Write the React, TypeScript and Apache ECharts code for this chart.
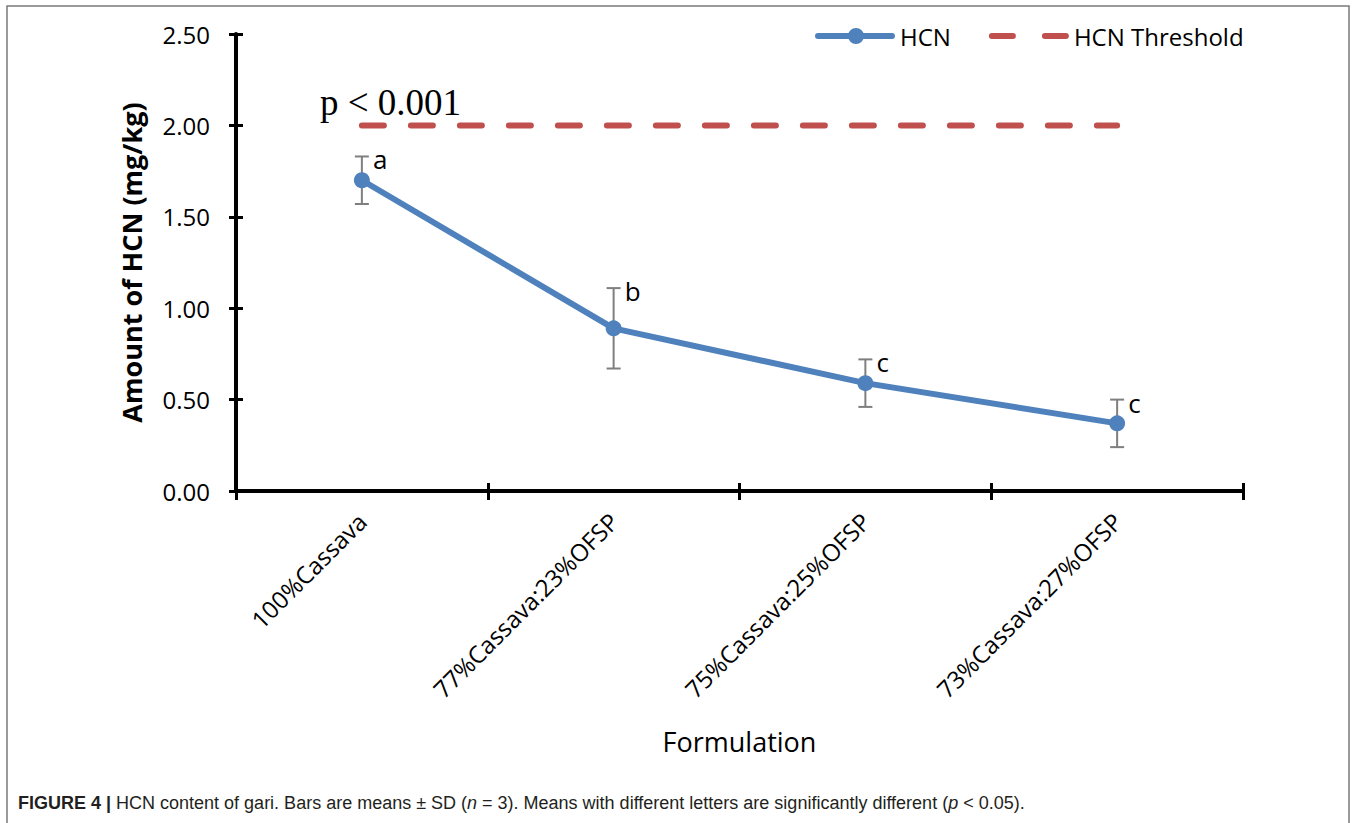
import React, { useEffect, useRef } from "react";
import * as echarts from "echarts";

const categories = ["100%Cassava", "77%Cassava:23%OFSP", "75%Cassava:25%OFSP", "73%Cassava:27%OFSP"];
const hcnMeans = [1.7, 0.89, 0.59, 0.37];
const hcnSD = [0.13, 0.22, 0.13, 0.13];
const sigLetters = ["a", "b", "c", "c"];
const thresholdValues = [2.0, 2.0, 2.0, 2.0];
const yMin = 0;
const yMax = 2.5;
const yInterval = 0.5;
const seriesNames = ["HCN", "HCN Threshold"];
const xTitle = "Formulation";
const yTitle = "Amount of HCN (mg/kg)";
const pAnnotation = "p < 0.001";

const FONT = "'Open Sans', 'DejaVu Sans', sans-serif";
const BLUE = "#4F81BD";
const RED = "#C0504D";

// legend icons: line with marker, and two rounded dashes
const HCN_ICON =
  "path://M3 5 H34 V11 H3 A3 3 0 0 1 3 5 Z M48 5 H77 A3 3 0 0 1 77 11 H48 Z M49 8 A8 8 0 1 1 33 8 A8 8 0 1 1 49 8 Z";
const THR_ICON =
  "path://M3 0 H24 A3 3 0 0 1 24 6 H3 A3 3 0 0 1 3 0 Z M56 0 H77 A3 3 0 0 1 77 6 H56 A3 3 0 0 1 56 0 Z";

export default function App() {
  const ref = useRef<HTMLDivElement>(null);
  useEffect(() => {
    if (!ref.current) return;
    const chart = echarts.init(ref.current, null, { renderer: "svg" });
    const errData = categories.map((_, i) => [i, hcnMeans[i], hcnSD[i], i]);
    const option: any = {
      animation: false,
      backgroundColor: "#fff",
      textStyle: { fontFamily: FONT, color: "#000" },
      grid: { left: 236, right: 114, top: 34, bottom: 332, containLabel: false },
      legend: {
        data: [
          { name: seriesNames[0], icon: HCN_ICON, itemStyle: { color: BLUE } },
          { name: seriesNames[1], icon: THR_ICON, itemStyle: { color: RED } },
        ],
        left: 810,
        top: 19,
        itemWidth: 80,
        itemHeight: 18,
        itemGap: 38,
        symbolKeepAspect: true,
        textStyle: { fontFamily: FONT, fontSize: 24, color: "#000" },
      },
      xAxis: [
        {
          type: "category",
          data: categories,
          boundaryGap: true,
          position: "bottom",
          axisLine: { show: true, lineStyle: { color: "#000", width: 4 } },
          axisTick: { show: true, alignWithLabel: false, length: 9, lineStyle: { color: "#000", width: 3 } },
          axisLabel: {
            rotate: 45,
            margin: 26,
            interval: 0,
            fontFamily: FONT,
            fontSize: 24,
            color: "#000",
          },
          name: xTitle,
          nameLocation: "middle",
          nameGap: 237,
          nameTextStyle: { fontFamily: FONT, fontSize: 27, color: "#000" },
          splitLine: { show: false },
        },
        {
          type: "category",
          data: categories,
          boundaryGap: true,
          position: "bottom",
          axisLine: { show: false },
          axisTick: { show: true, inside: true, alignWithLabel: false, length: 8, lineStyle: { color: "#000", width: 3 } },
          axisLabel: { show: false },
          splitLine: { show: false },
        },
      ],
      yAxis: [
        {
          type: "value",
          min: yMin,
          max: yMax,
          interval: yInterval,
          position: "left",
          axisLine: { show: true, lineStyle: { color: "#000", width: 4 } },
          axisTick: { show: true, length: 7, lineStyle: { color: "#000", width: 3 } },
          axisLabel: {
            margin: 26,
            fontFamily: FONT,
            fontSize: 24,
            color: "#000",
            formatter: (v: number) => v.toFixed(2),
          },
          splitLine: { show: false },
          name: yTitle,
          nameLocation: "middle",
          nameGap: 91,
          nameTextStyle: { fontFamily: FONT, fontSize: 27, fontWeight: "bold", color: "#000" },
        },
        {
          type: "value",
          min: yMin,
          max: yMax,
          interval: yInterval,
          position: "left",
          axisLine: { show: false },
          axisTick: { show: true, inside: true, length: 7, lineStyle: { color: "#000", width: 3 } },
          axisLabel: { show: false },
          splitLine: { show: false },
        },
      ],
      series: [
        {
          name: "errbar",
          type: "custom",
          xAxisIndex: 0,
          yAxisIndex: 0,
          z: 2,
          data: errData,
          renderItem: (params: any, api: any) => {
            const x = api.value(0);
            const m = api.value(1);
            const sd = api.value(2);
            const idx = api.value(3);
            const top = api.coord([x, m + sd]);
            const bot = api.coord([x, m - sd]);
            const cw = 7;
            const st = { stroke: "#7F7F7F", lineWidth: 2 };
            return {
              type: "group",
              children: [
                { type: "line", shape: { x1: top[0], y1: top[1], x2: bot[0], y2: bot[1] }, style: st },
                { type: "line", shape: { x1: top[0] - cw, y1: top[1], x2: top[0] + cw, y2: top[1] }, style: st },
                { type: "line", shape: { x1: bot[0] - cw, y1: bot[1], x2: bot[0] + cw, y2: bot[1] }, style: st },
                {
                  type: "text",
                  x: top[0] + 11,
                  y: top[1] + 3,
                  style: {
                    text: sigLetters[idx],
                    fontFamily: FONT,
                    fontSize: 26,
                    fill: "#000",
                    verticalAlign: "middle",
                    align: "left",
                  },
                },
              ],
            };
          },
        },
        {
          name: "HCN Threshold",
          type: "line",
          data: thresholdValues,
          symbol: "none",
          z: 2,
          lineStyle: { color: RED, width: 6, type: [22, 27], cap: "round" },
          itemStyle: { color: RED },
        },
        {
          name: "HCN",
          type: "line",
          data: hcnMeans,
          symbol: "circle",
          symbolSize: 16,
          z: 3,
          lineStyle: { color: BLUE, width: 6 },
          itemStyle: { color: BLUE },
        },
      ],
      graphic: [
        {
          type: "rect",
          shape: { x: 7, y: 6, width: 1342, height: 830 },
          style: { fill: "none", stroke: "#7a7a7a", lineWidth: 1.5 },
          silent: true,
        },
        {
          type: "text",
          x: 320,
          y: 121,
          style: {
            text: pAnnotation,
            fontFamily: "'Liberation Serif', 'Times New Roman', serif",
            fontSize: 37,
            fill: "#000",
            verticalAlign: "bottom",
          },
        },
        {
          type: "text",
          x: 18,
          y: 803,
          style: {
            text:
              "{b|FIGURE 4 |} HCN content of gari. Bars are means ± SD ({i|n} = 3). Means with different letters are significantly different ({i|p} < 0.05).",
            fontFamily: "'Liberation Sans', Arial, sans-serif",
            fontSize: 18,
            fill: "#231f20",
            verticalAlign: "middle",
            rich: {
              b: { fontFamily: "'Liberation Sans', Arial, sans-serif", fontSize: 18, fontWeight: "bold", fill: "#231f20" },
              i: { fontFamily: "'Liberation Sans', Arial, sans-serif", fontSize: 18, fontStyle: "italic", fill: "#231f20" },
            },
          },
        },
      ],
    };
    chart.setOption(option);
    return () => chart.dispose();
  }, []);
  return (
    <div
      ref={ref}
      style={{ position: "fixed", left: 0, top: 0, width: 1357, height: 823, background: "#fff" }}
    />
  );
}
